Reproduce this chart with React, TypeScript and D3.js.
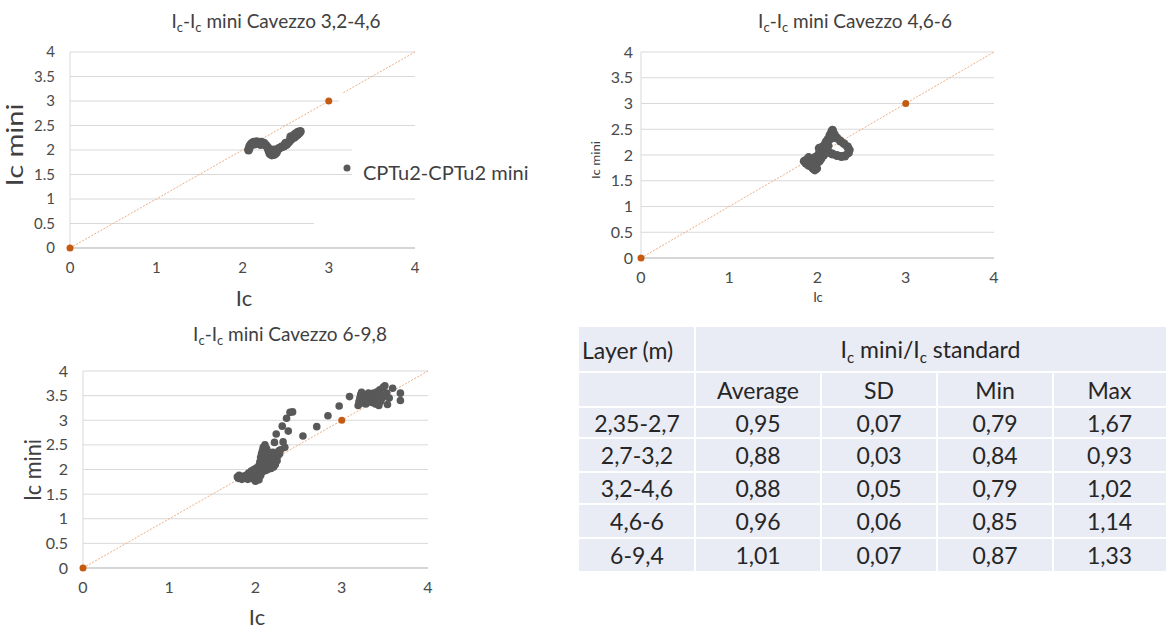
import React from "react";
import * as d3 from "d3";

const FONT = "Lato, 'Open Sans', sans-serif";

// axes
const xTicks = [0, 1, 2, 3, 4];
const yTicks = [0, 0.5, 1, 1.5, 2, 2.5, 3, 3.5, 4];
// orange reference series (0,0) and (3,3)
const refPoints: number[][] = [[0, 0], [3, 3]];

// Ic vs Ic mini, layer 3,2-4,6
const layer32_46: number[][] = [
  [2.07, 2.0], [2.08, 2.05], [2.09, 2.1], [2.11, 2.14], [2.13, 2.16], [2.16, 2.17],
  [2.19, 2.16], [2.22, 2.16], [2.25, 2.14], [2.27, 2.1], [2.29, 2.06], [2.3, 2.02],
  [2.31, 1.97], [2.32, 1.92], [2.34, 1.9], [2.37, 1.91], [2.39, 1.94], [2.4, 1.99],
  [2.42, 2.03], [2.45, 2.06], [2.48, 2.08], [2.51, 2.11], [2.53, 2.15], [2.55, 2.19],
  [2.57, 2.23], [2.6, 2.26], [2.62, 2.29], [2.64, 2.32], [2.66, 2.35], [2.67, 2.38],
  [2.64, 2.36], [2.6, 2.31], [2.56, 2.27], [2.34, 1.96], [2.36, 2.0], [2.21, 2.11],
  [2.14, 2.12], [2.33, 1.95], [2.38, 1.97], [2.5, 2.14], [2.62, 2.33],
];

// layer 4,6-6
const layer46_6: number[][] = [
  [1.85, 1.88], [1.87, 1.84], [1.9, 1.8], [1.93, 1.78], [1.95, 1.74], [1.97, 1.71],
  [1.99, 1.74], [1.98, 1.8], [1.96, 1.86], [1.93, 1.9], [1.97, 1.95], [2.0, 1.98],
  [2.02, 2.03], [2.04, 2.08], [2.02, 2.13], [2.06, 2.16], [2.09, 2.22], [2.12, 2.3],
  [2.14, 2.38], [2.16, 2.45], [2.17, 2.48], [2.19, 2.4], [2.22, 2.33], [2.26, 2.27],
  [2.3, 2.22], [2.34, 2.16], [2.36, 2.1], [2.35, 2.04], [2.31, 1.98], [2.27, 1.97],
  [2.22, 1.99], [2.17, 2.02], [2.13, 2.05], [2.1, 2.1], [2.07, 2.0], [2.04, 1.93],
  [1.99, 1.9], [1.9, 1.95], [1.88, 1.91], [2.12, 2.18], [2.1, 2.26], [2.15, 2.32],
  [2.02, 1.88], [1.94, 1.83],
];

// layer 6-9,8
const layer6_98: number[][] = [
  [1.79, 1.85], [1.8, 1.82], [1.81, 1.88], [1.83, 1.84], [1.84, 1.8], [1.86, 1.86],
  [1.87, 1.82], [1.89, 1.88], [1.9, 1.84], [1.91, 1.8], [1.92, 1.93], [1.93, 1.87],
  [1.94, 1.82], [1.95, 1.97], [1.96, 1.9], [1.97, 1.85], [1.98, 1.8], [1.98, 2.0],
  [1.99, 1.94], [2.0, 1.76], [2.0, 1.88], [2.01, 2.03], [2.02, 1.98], [2.02, 1.83],
  [2.03, 1.92], [2.04, 2.08], [2.04, 1.79], [2.05, 2.15], [2.05, 2.0], [2.06, 1.88],
  [2.06, 2.25], [2.07, 2.05], [2.07, 2.32], [2.08, 1.95], [2.08, 2.38], [2.09, 2.12],
  [2.09, 2.45], [2.1, 2.2], [2.1, 2.02], [2.11, 2.5], [2.11, 2.3], [2.12, 1.98],
  [2.12, 2.15], [2.13, 2.42], [2.13, 2.08], [2.14, 2.25], [2.14, 2.0], [2.15, 2.35],
  [2.15, 2.12], [2.16, 2.04], [2.16, 2.2], [2.17, 2.3], [2.17, 2.1], [2.18, 2.02],
  [2.18, 2.16], [2.19, 2.25], [2.19, 2.08], [2.2, 2.12], [2.2, 2.35], [2.21, 2.05],
  [2.21, 2.2], [2.22, 2.28], [2.22, 2.15], [2.23, 2.1], [2.24, 2.22], [2.24, 2.32],
  [2.25, 2.18], [2.26, 2.28], [2.27, 2.38], [2.28, 2.32],
  [2.22, 2.55], [2.24, 2.72], [2.31, 2.88], [2.36, 3.04], [2.4, 3.16], [2.43, 3.17],
  [2.38, 2.78], [2.32, 2.56], [2.34, 2.45], [2.29, 2.4], [2.55, 2.68], [2.71, 2.87],
  [2.84, 3.09], [2.97, 3.29], [3.09, 3.48],
  [3.19, 3.3], [3.2, 3.38], [3.21, 3.45], [3.22, 3.52], [3.23, 3.57], [3.24, 3.35],
  [3.25, 3.42], [3.27, 3.48], [3.28, 3.33], [3.29, 3.4], [3.3, 3.45], [3.31, 3.55],
  [3.32, 3.38], [3.33, 3.5], [3.34, 3.42], [3.35, 3.36], [3.36, 3.47], [3.37, 3.55],
  [3.38, 3.4], [3.39, 3.33], [3.4, 3.48], [3.41, 3.58], [3.42, 3.43], [3.43, 3.3],
  [3.44, 3.62], [3.45, 3.38], [3.46, 3.5], [3.47, 3.45], [3.48, 3.67], [3.5, 3.7],
  [3.52, 3.55], [3.53, 3.32], [3.55, 3.45], [3.59, 3.65], [3.68, 3.55], [3.68, 3.4],
];

// summary table
const tableLayers = ["2,35-2,7", "2,7-3,2", "3,2-4,6", "4,6-6", "6-9,4"];
const tableStats = ["Average", "SD", "Min", "Max"];
const tableAverage = ["0,95", "0,88", "0,88", "0,96", "1,01"];
const tableSD = ["0,07", "0,03", "0,05", "0,06", "0,07"];
const tableMin = ["0,79", "0,84", "0,79", "0,85", "0,87"];
const tableMax = ["1,67", "0,93", "1,02", "1,14", "1,33"];

const DOT = "#595959";
const REF = "#c55a11";
const GRID = "#d9d9d9";
const TXT = "#4a4a4a";

type Box = { left: number; right: number; top: number; bottom: number };

function Title({ x, y, suffix }: { x: number; y: number; suffix: string }) {
  return (
    <text x={x} y={y} textAnchor="middle" fontSize={19} fill="#404040" fontFamily={FONT}>
      I<tspan fontSize={13} dy={4}>c</tspan>
      <tspan dy={-4}>-I</tspan>
      <tspan fontSize={13} dy={4}>c</tspan>
      <tspan dy={-4}> mini Cavezzo {suffix}</tspan>
    </text>
  );
}

function Scatter(props: {
  data: number[][];
  box: Box;
  suffix: string;
  titleX: number;
  titleY: number;
  tickSize: number;
  tickGap: number;
  dotR: number;
  yLab: { x: number; y: number; size: number; len: number };
  xLab: { x: number; y: number; size: number };
  gridEnd?: Record<string, number>;
  diagSegments?: number[][][];
}) {
  const { data, box } = props;
  const x = d3.scaleLinear().domain([0, 4]).range([box.left, box.right]);
  const y = d3.scaleLinear().domain([0, 4]).range([box.bottom, box.top]);
  const line = d3
    .line<number[]>()
    .x((d) => x(d[0]))
    .y((d) => y(d[1]));
  const segs = props.diagSegments || [[[0, 0], [4, 4]]];

  return (
    <g fontFamily={FONT}>
      <Title x={props.titleX} y={props.titleY} suffix={props.suffix} />
      {yTicks.map((t) => (
        <line
          key={"g" + t}
          x1={x(0)}
          x2={x(props.gridEnd && props.gridEnd[String(t)] != null ? props.gridEnd[String(t)] : 4)}
          y1={y(t)}
          y2={y(t)}
          stroke={GRID}
          strokeWidth={1}
        />
      ))}
      <line x1={x(0)} x2={x(0)} y1={y(0)} y2={y(4)} stroke={GRID} />
      <line x1={x(0)} x2={x(4)} y1={y(0)} y2={y(0)} stroke="#bfbfbf" />
      {yTicks.map((t) => (
        <text
          key={"yt" + t}
          x={x(0) - props.tickGap}
          y={y(t)}
          dy="0.35em"
          textAnchor="end"
          fontSize={props.tickSize}
          fill={TXT}
        >
          {t}
        </text>
      ))}
      {xTicks.map((t) => (
        <text
          key={"xt" + t}
          x={x(t)}
          y={y(0) + 25}
          textAnchor="middle"
          fontSize={props.tickSize}
          fill={TXT}
        >
          {t}
        </text>
      ))}
      {segs.map((s, i) => (
        <path
          key={"d" + i}
          d={line(s) || ""}
          fill="none"
          stroke="#eeae84"
          strokeWidth={1}
          strokeDasharray="2 1.5"
        />
      ))}
      {data.map((d, i) => (
        <circle key={"p" + i} cx={x(d[0])} cy={y(d[1])} r={props.dotR} fill={DOT} />
      ))}
      {refPoints.map((d, i) => (
        <circle key={"r" + i} cx={x(d[0])} cy={y(d[1])} r={3.5} fill={REF} />
      ))}
      <text
        transform={`translate(${props.yLab.x},${props.yLab.y}) rotate(-90)`}
        textAnchor="middle"
        fontSize={props.yLab.size}
        textLength={props.yLab.len}
        lengthAdjust="spacingAndGlyphs"
        fill="#404040"
      >
        Ic mini
      </text>
      <text
        x={props.xLab.x}
        y={props.xLab.y}
        textAnchor="middle"
        fontSize={props.xLab.size}
        fill="#404040"
      >
        Ic
      </text>
    </g>
  );
}

function StatsTable() {
  const cols = [579, 695, 821, 937, 1053, 1166];
  const rows = [327, 372, 407, 438, 472, 504, 538, 571];
  const mid = (a: number[], i: number) => (a[i] + a[i + 1]) / 2;
  const columns = [tableAverage, tableSD, tableMin, tableMax];
  const fs = 23;
  const ink = "#262626";
  return (
    <g fontFamily={FONT} fontSize={fs} fill={ink}>
      <rect x={cols[0]} y={rows[0]} width={cols[5] - cols[0]} height={rows[7] - rows[0]} fill="#e9ebf5" />
      {rows.slice(1, 7).map((r) => (
        <line key={"h" + r} x1={cols[0]} x2={cols[5]} y1={r} y2={r} stroke="#fff" strokeWidth={2} />
      ))}
      <line x1={cols[1]} x2={cols[1]} y1={rows[0]} y2={rows[7]} stroke="#fff" strokeWidth={2} />
      {cols.slice(2, 5).map((c) => (
        <line key={"v" + c} x1={c} x2={c} y1={rows[1]} y2={rows[7]} stroke="#fff" strokeWidth={2} />
      ))}
      <text x={cols[0] + 3} y={mid(rows, 0)} dominantBaseline="central" fill={ink}>
        Layer (m)
      </text>
      <text x={(cols[1] + cols[5]) / 2} y={mid(rows, 0)} dy="0.35em" textAnchor="middle" fill={ink}>
        I<tspan fontSize={15} dy={5}>c</tspan>
        <tspan dy={-5}> mini/I</tspan>
        <tspan fontSize={15} dy={5}>c</tspan>
        <tspan dy={-5}> standard</tspan>
      </text>
      {tableStats.map((s, i) => (
        <text key={s} x={mid(cols, i + 1)} y={mid(rows, 1)} dominantBaseline="central" textAnchor="middle" fill={ink}>
          {s}
        </text>
      ))}
      {tableLayers.map((l, r) => (
        <g key={l}>
          <text x={mid(cols, 0)} y={mid(rows, r + 2)} dominantBaseline="central" textAnchor="middle" fill={ink}>
            {l}
          </text>
          {columns.map((col, c) => (
            <text
              key={c}
              x={mid(cols, c + 1)}
              y={mid(rows, r + 2)}
              dominantBaseline="central"
              textAnchor="middle"
              fill={ink}
            >
              {col[r]}
            </text>
          ))}
        </g>
      ))}
    </g>
  );
}

export default function App() {
  return (
    <div style={{ position: "absolute", left: 0, top: 0, background: "#fff" }}>
      <svg width={1166} height={631} style={{ display: "block" }}>
        <rect width={1166} height={631} fill="#fff" />
        <Scatter
          data={layer32_46}
          box={{ left: 70, right: 415, top: 52, bottom: 248 }}
          suffix="3,2-4,6"
          titleX={276}
          titleY={28}
          tickSize={15}
          tickGap={15}
          dotR={4.5}
          yLab={{ x: 23, y: 145, size: 23, len: 83 }}
          xLab={{ x: 244, y: 306, size: 22 }}
          gridEnd={{ "3": 3.12, "2": 3.27, "1.5": 3.27, "0.5": 2.83 }}
          diagSegments={[[[0, 0], [3, 3]], [[3.17, 3.17], [4, 4]]]}
        />
        <g fontFamily={FONT}>
          <circle cx={347} cy={168} r={3.5} fill={DOT} />
          <text x={363} y={180} fontSize={20} fill="#404040">
            CPTu2-CPTu2 mini
          </text>
        </g>
        <Scatter
          data={layer46_6}
          box={{ left: 641, right: 994, top: 52, bottom: 258 }}
          suffix="4,6-6"
          titleX={855}
          titleY={28}
          tickSize={16}
          tickGap={8}
          dotR={4.5}
          yLab={{ x: 600, y: 160, size: 12, len: 38 }}
          xLab={{ x: 818, y: 302, size: 13 }}
        />
        <Scatter
          data={layer6_98}
          box={{ left: 83, right: 428, top: 371, bottom: 568 }}
          suffix="6-9,8"
          titleX={290}
          titleY={341}
          tickSize={16}
          tickGap={15}
          dotR={3.8}
          yLab={{ x: 41, y: 470, size: 23, len: 62 }}
          xLab={{ x: 257, y: 625, size: 22 }}
        />
        <StatsTable />
      </svg>
    </div>
  );
}
